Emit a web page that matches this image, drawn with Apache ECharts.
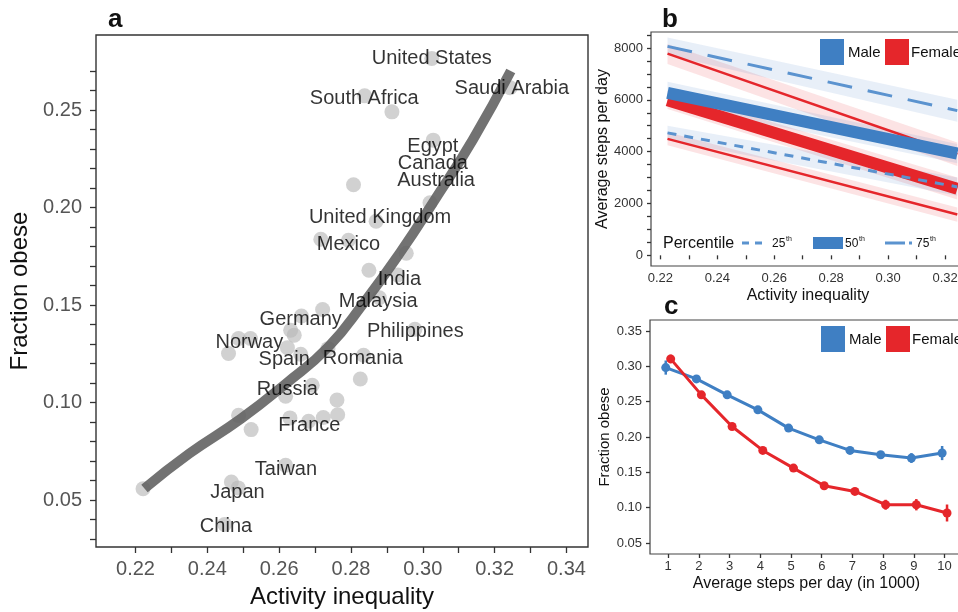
<!DOCTYPE html>
<html>
<head>
<meta charset="utf-8">
<script src="https://cdn.jsdelivr.net/npm/echarts@6.0.0/dist/echarts.min.js"></script>
<style>
  html, body { margin: 0; padding: 0; background: #fff; }
  #chart { width: 958px; height: 612px; }
</style>
</head>
<body>
<div id="chart"></div>
<script>
// ---- panel a: countries ----
const pointX = [0.3025, 0.3243, 0.2838, 0.2914, 0.3029, 0.2807, 0.3020, 0.2870, 0.2716, 0.2793,
  0.2954, 0.2850, 0.2930, 0.2879, 0.2721, 0.2662, 0.2632, 0.2642, 0.2487, 0.2520,
  0.2459, 0.2623, 0.2660, 0.2978, 0.2736, 0.2835, 0.2826, 0.2692, 0.2618, 0.2761,
  0.2487, 0.2522, 0.2630, 0.2682, 0.2723, 0.2763, 0.2618, 0.2467, 0.2486, 0.2448, 0.2221];
const pointY = [0.2765, 0.2615, 0.2573, 0.2491, 0.2346, 0.2117, 0.2025, 0.1930, 0.1838, 0.1833,
  0.1766, 0.1679, 0.1655, 0.1538, 0.1478, 0.1444, 0.1371, 0.1346, 0.1329, 0.1329,
  0.1252, 0.1282, 0.1248, 0.1376, 0.1277, 0.1243, 0.1121, 0.1089, 0.1033, 0.1014,
  0.0935, 0.0862, 0.0922, 0.0905, 0.0924, 0.0938, 0.0679, 0.0593, 0.0563, 0.0375, 0.0559];

const countryNames = ['United States', 'Saudi Arabia', 'South Africa', 'Egypt', 'Canada', 'Australia',
  'United Kingdom', 'Mexico', 'India', 'Malaysia', 'Germany', 'Philippines', 'Norway', 'Spain',
  'Romania', 'Russia', 'France', 'Taiwan', 'Japan', 'China'];
const countryLabelX = [0.3025, 0.3248, 0.2837, 0.3028, 0.3028, 0.3037, 0.2881, 0.2793, 0.2935, 0.2876,
  0.2660, 0.2979, 0.2517, 0.2614, 0.2833, 0.2623, 0.2684, 0.2619, 0.2484, 0.2452];
const countryLabelY = [0.2765, 0.2611, 0.2560, 0.2315, 0.2227, 0.2141, 0.1950, 0.1813, 0.1631, 0.1517,
  0.1426, 0.1363, 0.1311, 0.1222, 0.1226, 0.1069, 0.0884, 0.0657, 0.0542, 0.0366];

const fitX = [0.2225, 0.2350, 0.2494, 0.2619, 0.2737, 0.2835, 0.2937, 0.3030, 0.3140, 0.3245];
const fitY = [0.0560, 0.0739, 0.0918, 0.1098, 0.1286, 0.1510, 0.1770, 0.2030, 0.2350, 0.2700];

const aTicksX = [0.22, 0.23, 0.24, 0.25, 0.26, 0.27, 0.28, 0.29, 0.30, 0.31, 0.32, 0.33, 0.34];
const aLabelsX = [0.22, 0.24, 0.26, 0.28, 0.30, 0.32, 0.34];
const aTicksY = [0.03, 0.04, 0.05, 0.06, 0.07, 0.08, 0.09, 0.10, 0.11, 0.12, 0.13, 0.14, 0.15,
  0.16, 0.17, 0.18, 0.19, 0.20, 0.21, 0.22, 0.23, 0.24, 0.25, 0.26, 0.27];
const aLabelsY = [0.05, 0.10, 0.15, 0.20, 0.25];

// ---- panel b: steps vs inequality, start/end of each fitted line ----
const bX = [0.2225, 0.3243];
const male25 = [4724, 2640];
const male50 = [6266, 3927];
const male75 = [8062, 5584];
const female25 = [4493, 1576];
const female50 = [5981, 2566];
const female75 = [7780, 3900];
const male25Lo = [4450, 2300], male25Hi = [5000, 3000];
const male50Lo = [5850, 3550], male50Hi = [6700, 4300];
const male75Lo = [7730, 5150], male75Hi = [8400, 6000];
const female25Lo = [4250, 1300], female25Hi = [4750, 1850];
const female50Lo = [5650, 2150], female50Hi = [6350, 3000];
const female75Lo = [7380, 3450], female75Hi = [8150, 4350];

const bTicksX = [0.22, 0.23, 0.24, 0.25, 0.26, 0.27, 0.28, 0.29, 0.30, 0.31, 0.32];
const bLabelsX = [0.22, 0.24, 0.26, 0.28, 0.30, 0.32];
const bTicksY = [0, 500, 1000, 1500, 2000, 2500, 3000, 3500, 4000, 4500, 5000, 5500, 6000,
  6500, 7000, 7500, 8000, 8500];
const bLabelsY = [0, 2000, 4000, 6000, 8000];

// ---- panel c: fraction obese by steps ----
const steps = [1, 2, 3, 4, 5, 6, 7, 8, 9, 10];
const maleObese = [0.2982, 0.2822, 0.2596, 0.2384, 0.2126, 0.1960, 0.1810, 0.1749, 0.1702, 0.1773];
const maleErr = [0.010, 0.004, 0.004, 0.004, 0.004, 0.004, 0.004, 0.005, 0.007, 0.010];
const femaleObese = [0.3105, 0.2596, 0.2149, 0.1810, 0.1560, 0.1311, 0.1230, 0.1042, 0.1042, 0.0925];
const femaleErr = [0.006, 0.004, 0.004, 0.004, 0.004, 0.004, 0.005, 0.007, 0.008, 0.012];
const cLabelsY = [0.05, 0.10, 0.15, 0.20, 0.25, 0.30, 0.35];

const BLUE = '#3f7fc3';
const RED = '#e5262b';
const FONT = 'Liberation Sans, Arial, sans-serif';
const DODGE = 0.08;

const chart = echarts.init(document.getElementById('chart'));

function axis(o) {
  return {
    type: 'value',
    gridIndex: o.grid,
    min: o.min,
    max: o.max,
    name: o.name,
    nameLocation: 'middle',
    nameGap: o.nameGap,
    nameTextStyle: { fontSize: o.nameSize, color: '#111', fontFamily: FONT },
    axisLine: { show: false },
    splitLine: { show: false },
    axisTick: {
      show: true, inside: false, length: o.tickLen,
      customValues: o.ticks,
      lineStyle: { color: '#333', width: 1.3 }
    },
    axisLabel: {
      show: true, margin: o.margin,
      customValues: o.labels,
      fontSize: o.labelSize, color: o.labelColor, fontFamily: FONT,
      formatter: o.fmt
    }
  };
}

function band(lo, hi, color, opacity) {
  return {
    type: 'custom', xAxisIndex: 1, yAxisIndex: 1, silent: true, clip: true, z: 1,
    data: bX.map((x, i) => [x, lo[i], hi[i]]),
    encode: { x: 0, y: [1, 2] },
    renderItem: function (params, api) {
      if (params.dataIndex !== 0) return null;
      const top = bX.map((x, i) => api.coord([x, hi[i]]));
      const bot = bX.map((x, i) => api.coord([x, lo[i]])).reverse();
      return { type: 'polygon', shape: { points: top.concat(bot) }, style: { fill: color, opacity: opacity } };
    }
  };
}

function bLine(vals, color, width, dash, z) {
  return {
    type: 'line', xAxisIndex: 1, yAxisIndex: 1, silent: true, z: z,
    data: bX.map((x, i) => [x, vals[i]]),
    showSymbol: false,
    lineStyle: { color: color, width: width, type: dash || 'solid' }
  };
}

function errBars(xs, vals, errs, color) {
  return {
    type: 'custom', xAxisIndex: 2, yAxisIndex: 2, silent: true, z: 4,
    data: xs.map((x, i) => [x, vals[i] - errs[i], vals[i] + errs[i]]),
    encode: { x: 0, y: [1, 2] },
    renderItem: function (params, api) {
      const p1 = api.coord([api.value(0), api.value(1)]);
      const p2 = api.coord([api.value(0), api.value(2)]);
      return { type: 'line', shape: { x1: p1[0], y1: p1[1], x2: p2[0], y2: p2[1] },
        style: { stroke: color, lineWidth: 2.5 } };
    }
  };
}

const maleX = steps.map(s => s - DODGE);
const femaleX = steps.map(s => s + DODGE);

function txt(text, x, y, size, opts) {
  opts = opts || {};
  return {
    type: 'text', x: x, y: y, silent: true, z: 10,
    style: {
      text: text, fontSize: size, fontFamily: FONT,
      fontWeight: opts.bold ? 'bold' : 'normal',
      fill: opts.color || '#111',
      verticalAlign: opts.va || 'middle', align: opts.align || 'left'
    }
  };
}
function box(x, y, w, h, color) {
  return { type: 'rect', silent: true, z: 10, shape: { x: x, y: y, width: w, height: h }, style: { fill: color } };
}
function seg(x1, x2, y, color, width, dash) {
  return { type: 'line', silent: true, z: 10, shape: { x1: x1, y1: y, x2: x2, y2: y },
    style: { stroke: color, lineWidth: width, lineDash: dash || null } };
}

const option = {
  animation: false,
  textStyle: { fontFamily: FONT },
  grid: [
    { left: 96, top: 35, width: 492, height: 512, show: true, borderColor: '#333', borderWidth: 1.4,
      backgroundColor: 'transparent', outerBoundsMode: 'none', containLabel: false },
    { left: 651, top: 32, width: 314, height: 234, show: true, borderColor: '#444', borderWidth: 1.2,
      backgroundColor: 'transparent', outerBoundsMode: 'none', containLabel: false },
    { left: 650, top: 320, width: 313, height: 234, show: true, borderColor: '#444', borderWidth: 1.2,
      backgroundColor: 'transparent', outerBoundsMode: 'none', containLabel: false }
  ],
  xAxis: [
    axis({ grid: 0, min: 0.209, max: 0.346, name: 'Activity inequality', nameGap: 38, nameSize: 24,
      tickLen: 6, ticks: aTicksX, labels: aLabelsX, margin: 12, labelSize: 20, labelColor: '#555',
      fmt: v => v.toFixed(2) }),
    axis({ grid: 1, min: 0.2167, max: 0.327, name: 'Activity inequality', nameGap: 22, nameSize: 16,
      tickLen: 4, ticks: bTicksX, labels: bLabelsX, margin: 6, labelSize: 13, labelColor: '#333',
      fmt: v => v.toFixed(2) }),
    axis({ grid: 2, min: 0.407, max: 10.6, name: 'Average steps per day (in 1000)', nameGap: 22, nameSize: 16,
      tickLen: 4, ticks: steps, labels: steps, margin: 6, labelSize: 13, labelColor: '#333',
      fmt: v => String(v) })
  ],
  yAxis: [
    axis({ grid: 0, min: 0.026, max: 0.2885, name: 'Fraction obese', nameGap: 59, nameSize: 24,
      tickLen: 6, ticks: aTicksY, labels: aLabelsY, margin: 14, labelSize: 20, labelColor: '#555',
      fmt: v => v.toFixed(2) }),
    axis({ grid: 1, min: -412, max: 8617, name: 'Average steps per day', nameGap: 38, nameSize: 16,
      tickLen: 4, ticks: bTicksY, labels: bLabelsY, margin: 8, labelSize: 13, labelColor: '#333',
      fmt: v => String(v) }),
    axis({ grid: 2, min: 0.0345, max: 0.3655, name: 'Fraction obese', nameGap: 38, nameSize: 15,
      tickLen: 4, ticks: cLabelsY, labels: cLabelsY, margin: 8, labelSize: 13, labelColor: '#333',
      fmt: v => v.toFixed(2) })
  ],
  series: [
    // a
    {
      type: 'scatter', xAxisIndex: 0, yAxisIndex: 0, silent: true, z: 2,
      data: pointX.map((x, i) => [x, pointY[i]]),
      symbolSize: 15,
      itemStyle: { color: '#b9b9b9', opacity: 0.65 }
    },
    {
      type: 'line', xAxisIndex: 0, yAxisIndex: 0, silent: true, z: 3,
      data: fitX.map((x, i) => [x, fitY[i]]),
      smooth: true, showSymbol: false,
      lineStyle: { color: '#5e5e5e', width: 10, opacity: 0.88, cap: 'butt' }
    },
    {
      type: 'scatter', xAxisIndex: 0, yAxisIndex: 0, silent: true, z: 5,
      data: countryNames.map((n, i) => ({ name: n, value: [countryLabelX[i], countryLabelY[i]] })),
      symbolSize: 1,
      itemStyle: { color: 'transparent' },
      label: { show: true, position: 'inside', formatter: '{b}', fontSize: 20, color: '#000',
        textBorderWidth: 0, fontFamily: FONT }
    },
    // b bands
    band(female75Lo, female75Hi, RED, 0.13),
    band(female50Lo, female50Hi, RED, 0.13),
    band(female25Lo, female25Hi, RED, 0.13),
    band(male75Lo, male75Hi, BLUE, 0.12),
    band(male50Lo, male50Hi, BLUE, 0.12),
    band(male25Lo, male25Hi, BLUE, 0.12),
    // b lines
    bLine(female75, RED, 2.5, 'solid', 2),
    bLine(female25, RED, 2.5, 'solid', 2),
    bLine(female50, RED, 12, 'solid', 2),
    bLine(male75, '#5b93cf', 3, [25, 16], 3),
    bLine(male25, '#5b93cf', 3, [9, 8], 3),
    bLine(male50, BLUE, 12, 'solid', 3),
    // c
    {
      type: 'line', xAxisIndex: 2, yAxisIndex: 2, silent: true, z: 3,
      data: maleX.map((x, i) => [x, maleObese[i]]),
      symbol: 'circle', symbolSize: 9,
      itemStyle: { color: BLUE }, lineStyle: { color: BLUE, width: 3 }
    },
    {
      type: 'line', xAxisIndex: 2, yAxisIndex: 2, silent: true, z: 3,
      data: femaleX.map((x, i) => [x, femaleObese[i]]),
      symbol: 'circle', symbolSize: 9,
      itemStyle: { color: RED }, lineStyle: { color: RED, width: 3 }
    },
    errBars(maleX, maleObese, maleErr, BLUE),
    errBars(femaleX, femaleObese, femaleErr, RED)
  ],
  graphic: [
    txt('a', 108, 33, 26, { bold: true, va: 'bottom' }),
    txt('b', 662, 33, 26, { bold: true, va: 'bottom' }),
    txt('c', 664, 320, 26, { bold: true, va: 'bottom' }),
    // b legend
    box(820, 39, 24, 26, BLUE), txt('Male', 848, 53, 15),
    box(885, 39, 24, 26, RED), txt('Female', 911, 53, 15),
    // c legend
    box(821, 326, 24, 26, BLUE), txt('Male', 849, 340, 15),
    box(886, 326, 24, 26, RED), txt('Female', 912, 340, 15),
    // percentile legend
    txt('Percentile', 663, 244, 16),
    seg(742, 767, 243, '#5b93cf', 3, [7, 6]),
    txt('25', 772, 244, 12), txt('th', 786, 239, 7),
    box(813, 237, 30, 12, BLUE),
    txt('50', 845, 244, 12), txt('th', 859, 239, 7),
    seg(885, 912, 243, '#5b93cf', 3, [20, 4]),
    txt('75', 916, 244, 12), txt('th', 930, 239, 7)
  ]
};

chart.setOption(option);
</script>
</body>
</html>
